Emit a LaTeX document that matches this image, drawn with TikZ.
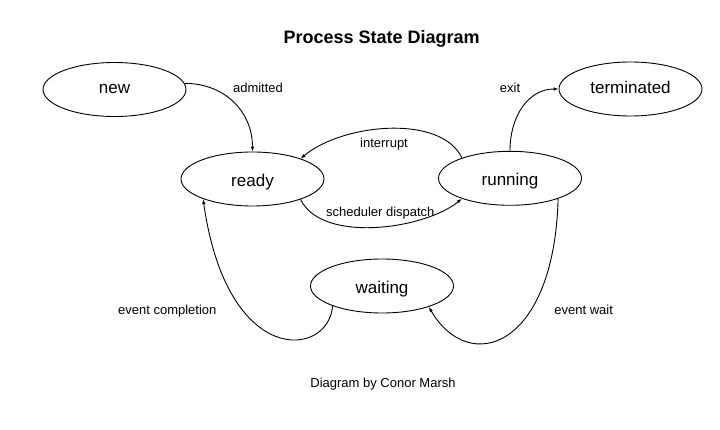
\documentclass[tikz,border=0pt]{standalone}
\usepackage{fontspec}
\setmainfont{Liberation Sans}
\usetikzlibrary{shapes.geometric,arrows.meta}
\begin{document}
\begin{tikzpicture}[x=1pt,y=-1pt,
  state/.style={ellipse, draw, line width=0.9pt, minimum width=143pt, minimum height=54pt, inner sep=0pt,
    font=\fontsize{17}{20}\selectfont, text height=12.2pt, text depth=3.2pt},
  lowtext/.style={text height=14.6pt, text depth=0pt},
  lbl/.style={font=\fontsize{13}{15}\selectfont, anchor=base, inner sep=0pt},
  edge/.style={line width=0.9pt, -{Latex[length=5pt,width=3.6pt]}}]
\useasboundingbox (0,0) rectangle (720,430);
\node[font=\bfseries\fontsize{18}{21}\selectfont, anchor=base, inner sep=0pt] (title) at (381.7,43.5) {Process State Diagram};

\node[state] (new) at (114.5,89.5) {new};
\node[state] (terminated) at (630.5,89) {terminated};
\node[state, lowtext] (ready) at (252.5,179) {ready};
\node[state, lowtext] (running) at (510,178.3) {running};
\node[state, lowtext] (waiting) at (382,286) {waiting};

\draw[edge] (new.5) .. controls +(40,0) and +(0,-40) .. (ready.north);
\draw[edge] (running.north) .. controls +(0,-35) and +(-30,0) .. (terminated.west);
\draw[edge] (running.157) .. controls +(-21,-44) and +(42,-35) .. (ready.23);
\draw[edge] (ready.-23) .. controls +(21,44) and +(-38,31) .. (running.203);
\draw[edge] (waiting.202) .. controls +(-4,52) and +(24,170) .. (ready.202);
\draw[edge] (running.-23) .. controls +(-4,150) and +(40,69) .. (waiting.-24);

\node[lbl] (lAdmitted) at (258,92.5) {admitted};
\node[lbl] (lExit) at (510,92.7) {exit};
\node[lbl] (lInterrupt) at (384,148) {interrupt};
\node[lbl] (lDispatch) at (380.3,216.7) {scheduler dispatch};
\node[lbl] (lCompletion) at (167.3,314.5) {event completion};
\node[lbl] (lWait) at (583.7,314.5) {event wait};
\node[lbl] (credit) at (383,387.6) {Diagram by Conor Marsh};
\end{tikzpicture}
\end{document}
